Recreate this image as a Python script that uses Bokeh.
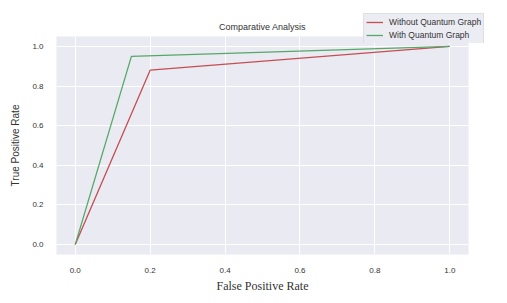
from bokeh.plotting import figure
from bokeh.layouts import column
from bokeh.models import Legend, LegendItem, Range1d, FixedTicker, NumeralTickFormatter
from bokeh.embed import file_html
from bokeh.resources import INLINE

fpr_without = [0.0, 0.2, 1.0]
tpr_without = [0.0, 0.88, 1.0]
fpr_with = [0.0, 0.15, 1.0]
tpr_with = [0.0, 0.95, 1.0]
ticks = [0.0, 0.2, 0.4, 0.6, 0.8, 1.0]
labels = ["Without Quantum Graph", "With Quantum Graph"]
colors = ["#c44e52", "#55a868"]

p = figure(width=476, height=295, output_backend="svg", toolbar_location=None,
           x_range=Range1d(-0.05, 1.05), y_range=Range1d(-0.05, 1.05),
           min_border_left=56, min_border_right=8, min_border_top=36, min_border_bottom=39)
p.background_fill_color = "#eaeaf2"
p.border_fill_color = "white"
p.outline_line_color = None

p.title.text = "Comparative Analysis"
p.title.align = "center"
p.title.text_font = "Liberation Sans"
p.title.text_font_size = "9px"
p.title.text_font_style = "normal"
p.title.text_color = "#333333"

for ax in (p.xaxis[0], p.yaxis[0]):
    ax.ticker = FixedTicker(ticks=ticks)
    ax.formatter = NumeralTickFormatter(format="0.0")
    ax.axis_line_color = None
    ax.major_tick_line_color = None
    ax.minor_tick_line_color = None
    ax.major_label_text_font = "Liberation Sans"
    ax.major_label_text_font_size = "8px"
    ax.major_label_text_color = "#333333"
    ax.major_label_standoff = 7

p.xaxis[0].axis_label = "False Positive Rate"
p.xaxis[0].axis_label_text_font = "Liberation Serif"
p.xaxis[0].axis_label_text_font_size = "12px"
p.xaxis[0].axis_label_text_font_style = "normal"
p.xaxis[0].axis_label_text_color = "#333333"
p.xaxis[0].axis_label_standoff = 3

p.yaxis[0].axis_label = "True Positive Rate"
p.yaxis[0].axis_label_text_font = "Liberation Sans"
p.yaxis[0].axis_label_text_font_size = "10px"
p.yaxis[0].axis_label_text_font_style = "normal"
p.yaxis[0].axis_label_text_color = "#333333"
p.yaxis[0].axis_label_standoff = 8

p.grid.grid_line_color = "white"
p.grid.grid_line_width = 1
p.xgrid.ticker = FixedTicker(ticks=ticks)
p.ygrid.ticker = FixedTicker(ticks=ticks)

p.line(fpr_without, tpr_without, line_color=colors[0], line_width=1.3)
p.line(fpr_with, tpr_with, line_color=colors[1], line_width=1.3)

# small overlay figure carrying the legend (placed over the top-right corner);
# its ranges keep its own copies of the series out of view, only the legend shows
lg = figure(width=186, height=30, output_backend="svg", toolbar_location=None,
            x_axis_type=None, y_axis_type=None,
            x_range=Range1d(10, 11), y_range=Range1d(10, 11),
            min_border_left=56, min_border_right=8, min_border_top=0, min_border_bottom=0,
            margin=(-282, 0, 252, 307))
lg.background_fill_alpha = 0
lg.border_fill_alpha = 0
lg.outline_line_color = None
d1 = lg.line(fpr_without, tpr_without, line_color=colors[0], line_width=1.3)
d2 = lg.line(fpr_with, tpr_with, line_color=colors[1], line_width=1.3)

legend = Legend(items=[LegendItem(label=labels[0], renderers=[d1]),
                       LegendItem(label=labels[1], renderers=[d2])],
                location="top_left")
legend.background_fill_color = "#eaeaf2"
legend.background_fill_alpha = 0.9
legend.border_line_color = "#d0d0d8"
legend.label_text_font = "Liberation Sans"
legend.label_text_font_size = "8.5px"
legend.label_text_color = "#333333"
legend.label_height = 12
legend.glyph_height = 12
legend.glyph_width = 17
legend.label_standoff = 6
legend.spacing = 1
legend.padding = 2
legend.margin = 0
lg.add_layout(legend, "center")

layout = column(p, lg, spacing=0)
open("out.html", "w").write(file_html(layout, INLINE))
